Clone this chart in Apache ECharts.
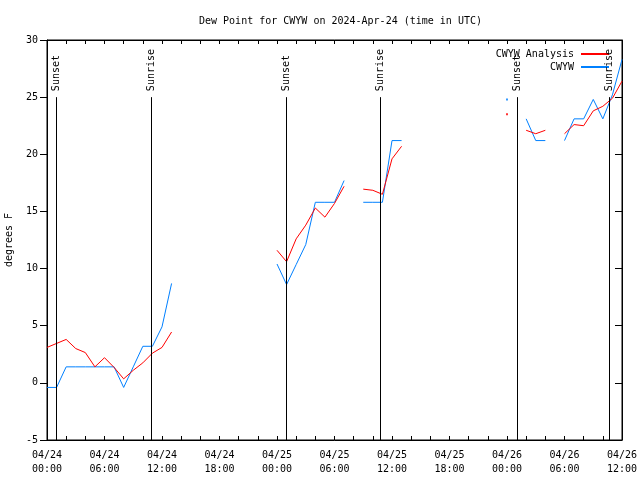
<!DOCTYPE html>
<html>
<head>
<meta charset="utf-8">
<script src="https://cdn.jsdelivr.net/npm/echarts@6/dist/echarts.min.js"></script>
<style>html,body{margin:0;padding:0;background:#fff}#c{width:640px;height:480px}</style>
</head>
<body>
<div id="c"></div>
<script>
const titleText = 'Dew Point for CWYW on 2024-Apr-24 (time in UTC)';
const startUTC = Date.UTC(2024, 3, 24, 0, 0);
const endUTC = Date.UTC(2024, 3, 26, 12, 0);
// hourly values from 04/24 00:00 UTC (index = hour offset)
const analysis = [3.1,3.45,3.8,3.0,2.65,1.4,2.2,1.35,0.35,1.1,1.75,2.6,3.1,4.45,
  null,null,null,null,null,null,null,null,null,null,
  11.6,10.6,12.6,13.8,15.3,14.5,15.7,17.2,null,16.95,16.85,16.5,19.6,20.7,
  null,null,null,null,null,null,null,null,null,null,
  23.5,null,22.1,21.8,22.1,null,21.8,22.6,22.5,23.8,24.2,24.9,26.4];
const observed = [-0.4,-0.4,1.4,1.4,1.4,1.4,1.4,1.4,-0.4,1.4,3.2,3.2,4.9,8.7,
  null,null,null,null,null,null,null,null,null,null,
  10.4,8.6,10.35,12.1,15.8,15.8,15.8,17.7,null,15.8,15.8,15.8,21.2,21.2,
  null,null,null,null,null,null,null,null,null,null,
  24.8,null,23.1,21.2,21.2,null,21.2,23.1,23.1,24.8,23.1,25.2,28.3];
const sunEvents = [
  ['2024-04-24T00:54Z','Sunset'],['2024-04-24T10:49Z','Sunrise'],
  ['2024-04-25T00:58Z','Sunset'],['2024-04-25T10:43Z','Sunrise'],
  ['2024-04-26T01:01Z','Sunset'],['2024-04-26T10:41Z','Sunrise']
];
const seriesNames = ['CWYW Analysis','CWYW'];
const yTicks = {min:-5, max:30, interval:5};

const HOUR = 3600000;
const FONT = 'DejaVu Sans Mono';
function toPairs(arr){ return arr.map((v,i)=>[startUTC + i*HOUR, v]); }
function isolated(arr){
  const out=[];
  arr.forEach((v,i)=>{ if(v!=null && arr[i-1]==null && arr[i+1]==null) out.push([startUTC+i*HOUR, v]); });
  return out;
}
function pad(n){ return (n<10?'0':'')+n; }
function fmt(v){
  const h = Math.round((v-startUTC)/HOUR);
  if (h % 6 !== 0) return '';
  const d = new Date(v);
  return pad(d.getUTCMonth()+1)+'/'+pad(d.getUTCDate())+'\n'+pad(d.getUTCHours())+':'+pad(d.getUTCMinutes());
}
const xBase = {type:'value', min:startUTC, max:endUTC, interval:2*HOUR, splitLine:{show:false},
  axisLine:{onZero:false, lineStyle:{color:'#000',width:1}}, axisTick:{inside:true,length:4,lineStyle:{color:'#000'}}};
const yBase = {type:'value', min:yTicks.min, max:yTicks.max, interval:yTicks.interval, splitLine:{show:false},
  axisLine:{show:true,onZero:false,lineStyle:{color:'#000',width:1}}};
const colors = ['#ff0000','#0080ff'];
const chart = echarts.init(document.getElementById('c'), null, {renderer:'canvas'});
chart.setOption({
  animation:false,
  backgroundColor:'#fff',
  title:{text:titleText, left:194, top:11, textStyle:{fontFamily:FONT,fontSize:10,fontWeight:'normal',color:'#000'}},
  legend:[
    {data:[seriesNames[0]], orient:'vertical', right:25, top:44, align:'right', itemWidth:28, itemHeight:2, itemGap:4,
     textStyle:{fontFamily:FONT,fontSize:10,color:'#000',padding:[0,2,0,0]}},
    {data:[seriesNames[1]], orient:'vertical', right:25, top:57, align:'right', itemWidth:28, itemHeight:2, itemGap:4,
     textStyle:{fontFamily:FONT,fontSize:10,color:'#000',padding:[0,2,0,0]}}
  ],
  grid:{left:47, right:18, top:40, bottom:40, show:true, borderColor:'#000', borderWidth:1, containLabel:false, outerBoundsMode:'none'},
  xAxis:[
    Object.assign({}, xBase, {position:'bottom', axisLabel:{formatter:fmt, fontFamily:FONT, fontSize:10, color:'#000', margin:8, lineHeight:14, showMinLabel:true, showMaxLabel:true, hideOverlap:false}}),
    Object.assign({}, xBase, {position:'top', axisLabel:{show:false}})
  ],
  yAxis:[
    Object.assign({}, yBase, {position:'left', name:'degrees F', nameLocation:'middle', nameGap:33,
      nameTextStyle:{fontFamily:FONT,fontSize:10,color:'#000'},
      axisTick:{inside:false,length:7,lineStyle:{color:'#000'}},
      axisLabel:{fontFamily:FONT,fontSize:10,color:'#000',margin:9}}),
    Object.assign({}, yBase, {position:'right', axisTick:{inside:true,length:7,lineStyle:{color:'#000'}}, axisLabel:{show:false}})
  ],
  series:[
    {name:seriesNames[0], type:'line', data:toPairs(analysis), showSymbol:false, symbol:'none', connectNulls:false,
     lineStyle:{color:colors[0],width:1}, itemStyle:{color:colors[0]}, z:3},
    {name:seriesNames[1], type:'line', data:toPairs(observed), showSymbol:false, symbol:'none', connectNulls:false,
     lineStyle:{color:colors[1],width:1}, itemStyle:{color:colors[1]}, z:2},
    {type:'scatter', data:isolated(analysis), symbol:'rect', symbolSize:2, itemStyle:{color:colors[0]}, silent:true},
    {type:'scatter', data:isolated(observed), symbol:'rect', symbolSize:2, itemStyle:{color:colors[1]}, silent:true},
    {type:'custom', data:sunEvents.map(e=>[Date.parse(e[0]), e[1]]), silent:true, z:5,
     renderItem:function(params, api){
       const t = api.value(0);
       const top = api.coord([t, 25]);
       const bot = api.coord([t, -5]);
       const label = sunEvents[params.dataIndex][1];
       return {type:'group', children:[
         {type:'line', shape:{x1:Math.round(top[0])+0.5, y1:top[1], x2:Math.round(top[0])+0.5, y2:bot[1]}, style:{stroke:'#000', lineWidth:1}},
         {type:'text', x:Math.round(top[0])+0.5, y:top[1]-6, rotation:Math.PI/2,
          style:{text:label, fontFamily:FONT, fontSize:10, fill:'#000', align:'left', verticalAlign:'middle'}}
       ]};
     }}
  ]
});
</script>
</body>
</html>
